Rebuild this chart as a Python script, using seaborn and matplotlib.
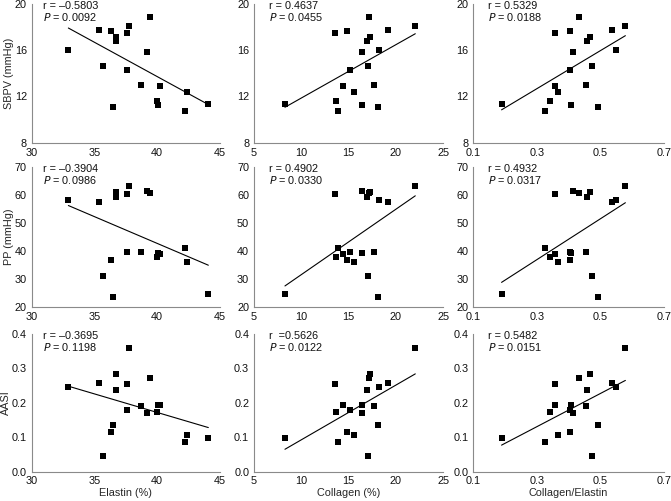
import matplotlib
matplotlib.use("Agg")
import matplotlib.pyplot as plt
import seaborn as sns
import numpy as np

# ---- data (one value per subject) ----
elastin = [32.92, 35.36, 35.68, 36.29, 36.50, 36.69, 36.69, 37.57, 37.75, 37.57,
           38.73, 39.40, 39.19, 39.95, 40.09, 40.19, 42.24, 42.40, 44.07]
collagen = [18.20, 19.19, 17.01, 14.79, 18.10, 17.25, 16.90, 13.56, 22.04, 15.18,
            17.68, 17.18, 16.37, 13.66, 16.44, 14.44, 13.84, 15.60, 8.27]
ratio = [0.549, 0.538, 0.474, 0.406, 0.493, 0.467, 0.459, 0.358, 0.579, 0.403,
         0.454, 0.434, 0.415, 0.342, 0.409, 0.358, 0.327, 0.366, 0.189]
sbpv = [16.02, 17.75, 14.60, 17.69, 11.09, 17.12, 16.83, 17.49, 18.07, 14.26,
        12.99, 18.88, 15.88, 11.58, 11.26, 12.93, 10.74, 12.36, 11.35]
pp = [58.2, 57.5, 30.95, 36.8, 23.45, 60.95, 59.2, 60.1, 63.0, 39.6,
      39.6, 60.6, 61.2, 37.7, 39.3, 38.8, 40.8, 35.8, 24.6]
aasi = [0.245, 0.258, 0.046, 0.116, 0.135, 0.284, 0.237, 0.255, 0.359, 0.179,
        0.192, 0.272, 0.169, 0.172, 0.193, 0.194, 0.086, 0.105, 0.098]

x_labels = ["Elastin (%)", "Collagen (%)", "Collagen/Elastin"]
y_labels = ["SBPV (mmHg)", "PP (mmHg)", "AASI"]
r_text = [["r = \u20130.5803", "r = 0.4637", "r = 0.5329"],
          ["r = \u20130.3904", "r = 0.4902", "r = 0.4932"],
          ["r = \u20130.3695", "r  =0.5626", "r = 0.5482"]]
p_text = [["0.0092", "0.0455", "0.0188"],
          ["0.0986", "0.0330", "0.0317"],
          ["0.1198", "0.0122", "0.0151"]]
x_ticks = [[30, 35, 40, 45], [5, 10, 15, 20, 25], [0.1, 0.3, 0.5, 0.7]]
y_ticks = [[8, 12, 16, 20], [20, 30, 40, 50, 60, 70], [0.0, 0.1, 0.2, 0.3, 0.4]]

xs = [elastin, collagen, ratio]
ys = [sbpv, pp, aasi]

sns.set_style("white")
plt.rcParams["font.family"] = ["Liberation Sans", "DejaVu Sans"]

W, H = 671, 501
fig = plt.figure(figsize=(W / 100, H / 100), dpi=100)

col_left = [31.7, 254.0, 473.3]
col_width = [188.3, 189.3, 190.5]
row_top = [4.0, 166.7, 334.0]
row_height = [138.7, 140.0, 137.5]
text_x = [0.058, 0.081, 0.077]
fs = 7.8

spine_col = "#8a8a8a"
for r in range(3):
    for c in range(3):
        ax = fig.add_axes([col_left[c] / W, 1 - (row_top[r] + row_height[r]) / H,
                           col_width[c] / W, row_height[r] / H])
        sns.regplot(x=np.array(xs[c]), y=np.array(ys[r]), ax=ax, ci=None,
                    truncate=True, marker="s",
                    scatter_kws=dict(s=17, color="black", linewidths=0, alpha=1),
                    line_kws=dict(color="black", lw=0.8))
        ax.set_xlim(x_ticks[c][0], x_ticks[c][-1])
        ax.set_ylim(y_ticks[r][0], y_ticks[r][-1])
        ax.set_xticks(x_ticks[c])
        ax.set_yticks(y_ticks[r])
        if c == 2:
            ax.set_xticklabels([f"{v:.1f}" for v in x_ticks[c]])
        if r == 2:
            ax.set_yticklabels([f"{v:.1f}" for v in y_ticks[r]])
        for s in ["top", "right"]:
            ax.spines[s].set_visible(False)
        for s in ["left", "bottom"]:
            ax.spines[s].set_color(spine_col)
            ax.spines[s].set_linewidth(0.8)
        ax.tick_params(axis="both", direction="out", length=2.5, width=0.8,
                       color=spine_col, labelsize=fs, labelcolor="#111111", pad=1.0)
        ax.set_xlabel(x_labels[c] if r == 2 else "", fontsize=fs, labelpad=1.2)
        ax.set_ylabel(y_labels[r] if c == 0 else "", fontsize=fs, labelpad=0.8)
        ax.text(text_x[c], 0.986, r_text[r][c], transform=ax.transAxes,
                fontsize=fs, va="center", ha="left", color="#111111")
        ax.text(text_x[c], 0.904, "$\\it{P}$ = " + p_text[r][c], transform=ax.transAxes,
                fontsize=fs, va="center", ha="left", color="#111111")

fig.savefig("out.png", dpi=100)
